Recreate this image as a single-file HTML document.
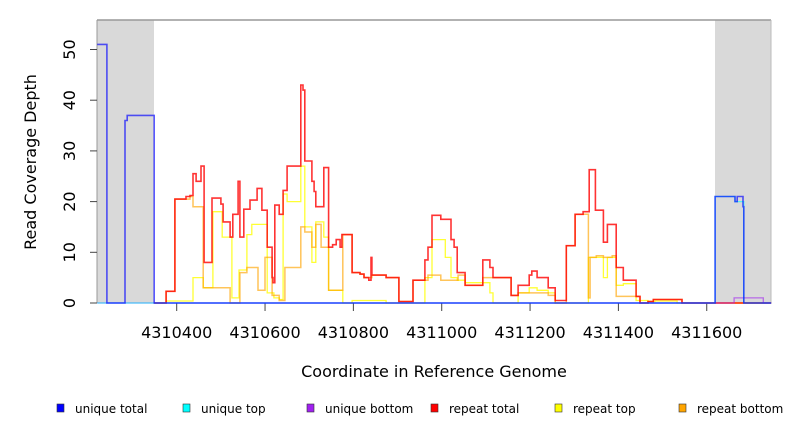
<!DOCTYPE html>
<html><head><meta charset="utf-8"><style>
html,body{margin:0;padding:0;background:#fff;}
svg{display:block;font-family:"DejaVu Sans","Liberation Sans",sans-serif;}
</style></head><body>
<svg id="chart" width="792" height="432" viewBox="0 0 792 432">
<rect x="97" y="20" width="57" height="283" fill="#d9d9d9"/>
<rect x="715" y="20" width="56" height="283" fill="#d9d9d9"/>
<line x1="97" y1="20" x2="771" y2="20" stroke="#999" stroke-width="1.5"/>
<line x1="97" y1="20" x2="97" y2="303" stroke="#999" stroke-width="1"/>
<line x1="771" y1="20" x2="771" y2="303" stroke="#bbb" stroke-width="1"/>
<g id="yaxis"></g>
<g id="xaxis"></g>
<g id="series"></g>
<text x="36" y="162" transform="rotate(-90 36 162)" text-anchor="middle" font-size="16" fill="#000">Read Coverage Depth</text>
<text x="434" y="377" text-anchor="middle" font-size="16" fill="#000">Coordinate in Reference Genome</text>
<g id="legend"></g>
</svg>
<script>
const yTicks=[0,10,20,30,40,50];
const xTicks=[4310400,4310600,4310800,4311000,4311200,4311400,4311600];
const legendNames=["unique total","unique top","unique bottom","repeat total","repeat top","repeat bottom"];
const legendColors=["#0000ff","#00ffff","#a020f0","#ff0000","#ffff00","#ffa500"];
const uniqueTotalX=[4310220,4310242,4310283,4310288,4310349,4311619,4311664,4311669,4311682,4311684,4311746];
const uniqueTotalV=[51,0,36,37,0,21,20,21,19,0,0];
const uniqueTopX=[4310220,4311619,4311664,4311684,4311746];
const uniqueTopV=[0,21,20,0,0];
const uniqueBottomX=[4310220,4311662,4311728,4311746];
const uniqueBottomV=[0,1,0,0];
const repeatTotalX=[4310349,4310376,4310396,4310421,4310430,4310437,4310444,4310455,4310462,4310480,4310500,4310505,4310521,4310527,4310539,4310543,4310552,4310566,4310582,4310593,4310605,4310616,4310618,4310622,4310632,4310641,4310650,4310681,4310686,4310690,4310706,4310711,4310715,4310733,4310744,4310753,4310761,4310770,4310774,4310797,4310815,4310824,4310835,4310840,4310842,4310874,4310903,4310935,4310962,4310969,4310978,4310998,4311021,4311028,4311035,4311053,4311093,4311109,4311116,4311157,4311173,4311198,4311204,4311216,4311241,4311257,4311282,4311302,4311320,4311334,4311348,4311366,4311375,4311395,4311411,4311440,4311449,4311467,4311479,4311544,4311746];
const repeatTotalV=[0,2.3,20.5,21,21.2,25.5,24,27,8,20.7,19.5,16,13,17.5,24,13,18.5,20.3,22.6,18.3,11,5,4,19.3,17.5,22.2,27,43,42,28,24,22,19,26.7,11,11.5,12.5,11,13.5,6,5.7,5,4.5,9,5.5,5,0.3,4.5,8.5,11,17.3,16.5,12.5,11,6,3.5,8.5,7,5,1.5,3.5,5.5,6.3,5,3,0.5,11.3,17.5,18,26.3,18.3,12,15.5,7,4.5,1.3,0,0.3,0.7,0,0];
const repeatTopX=[4310349,4310376,4310437,4310460,4310482,4310503,4310525,4310541,4310559,4310570,4310605,4310620,4310632,4310641,4310650,4310681,4310690,4310706,4310715,4310733,4310744,4310776,4310797,4310874,4310962,4310978,4311008,4311021,4311035,4311053,4311087,4311109,4311116,4311173,4311198,4311216,4311241,4311257,4311332,4311366,4311375,4311395,4311411,4311440,4311467,4311483,4311533,4311746];
const repeatTopV=[0,0.4,5,3,18,13,1,6.5,13.5,15.5,2,1,0.7,21.5,20,27,15,8,16,13,2.5,0,0.5,0,5,12.5,9,5,4.5,4,4,2,0,2,3,2.5,2,0,9,5,9,3.5,3.8,0.5,0.3,0.4,0,0];
const repeatBottomX=[4310349,4310376,4310396,4310430,4310437,4310460,4310521,4310543,4310559,4310584,4310600,4310616,4310632,4310645,4310681,4310690,4310706,4310715,4310727,4310744,4310776,4310797,4310815,4310824,4310842,4310874,4310903,4310935,4310969,4310998,4311037,4311053,4311093,4311157,4311173,4311241,4311257,4311282,4311302,4311332,4311336,4311350,4311366,4311386,4311395,4311440,4311449,4311467,4311479,4311544,4311746];
const repeatBottomV=[0,2.3,20.5,21,19,3,0,6,7,2.5,9,1.5,0.5,7,15,14,11,15.5,11,2.5,13.5,6,5.7,5,5.5,5,0.3,4.5,5.5,4.5,5.5,3.5,5,1.5,2,1.5,0,11.3,17.5,1,9,9.3,9,9.3,1.3,1.3,0,0.3,0.7,0,0];
</script>
<script>
const NS="http://www.w3.org/2000/svg";
const X0=97,X1=771,Y0=303;
function xs(c){return 176.7+(c-4310400)*0.4417;}
function ys(v){return Y0-v*5.07;}
function mk(tag,attrs,parent){const e=document.createElementNS(NS,tag);for(const k in attrs)e.setAttribute(k,attrs[k]);parent.appendChild(e);return e;}
const yA=document.getElementById('yaxis'),xA=document.getElementById('xaxis'),sL=document.getElementById('series'),lg=document.getElementById('legend');
yTicks.forEach(v=>{
  const t=mk('line',{x1:90,x2:97,y1:ys(v),y2:ys(v),stroke:'#444','stroke-width':1},yA);
  
  
  const y=ys(v);
  const l=mk('text',{x:75,y:y,transform:`rotate(-90 75 ${y})`,'text-anchor':'middle','font-size':16},yA);
  l.textContent=v;
  
  
});
xTicks.forEach(c=>{
  const x=xs(c);
  const t=mk('line',{x1:x,x2:x,y1:303,y2:311,stroke:'#444','stroke-width':1},xA);
  
  
  const l=mk('text',{x:x,y:338,'text-anchor':'middle','font-size':16},xA);
  l.textContent=c;
  
  
});
function step(xsArr,vs,color,w,op,name){
  let d='';
  xsArr.forEach((c,i)=>{const x=xs(c).toFixed(1),y=ys(vs[i]).toFixed(1);
    if(i===0)d+=`M${x},${y}`;else d+=`H${x}V${y}`;});
  d+=`H${X1}`;
  const e=mk('path',{d:d,fill:'none',stroke:color,'stroke-width':w,'stroke-opacity':op},sL);
  
  
}
step(repeatTopX,repeatTopV,'#ffff00',1.3,0.8,'repeat-top-line');
step(repeatBottomX,repeatBottomV,'#ffa500',1.5,0.65,'repeat-bottom-line');
step(repeatTotalX,repeatTotalV,'#ff0000',1.6,0.8,'repeat-total-line');
step(uniqueBottomX,uniqueBottomV,'#a020f0',1.3,0.6,'unique-bottom-line');
step(uniqueTopX,uniqueTopV,'#00ffff',1.3,0.6,'unique-top-line');
step(uniqueTotalX,uniqueTotalV,'#0000ff',1.6,0.65,'unique-total-line');
const lx=[57,183,307,431,555,679];
legendNames.forEach((n,i)=>{
  const r=mk('rect',{x:lx[i],y:404,width:7,height:8,fill:legendColors[i],stroke:'#333','stroke-width':0.6},lg);
  
  
  const t=mk('text',{x:lx[i]+18,y:413,'font-size':12},lg);
  t.textContent=n;
  
  
});
</script>
</body></html>
